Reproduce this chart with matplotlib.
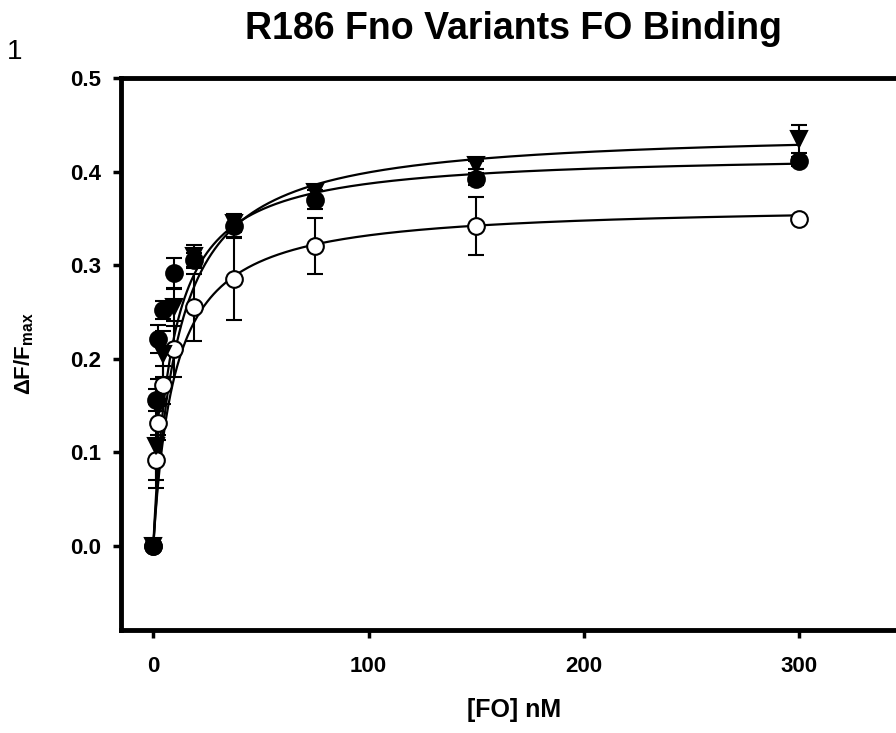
import matplotlib
matplotlib.use("Agg")
import matplotlib.pyplot as plt
import numpy as np

# concentrations of FO (nM)
conc = [0, 1.17, 2.34, 4.69, 9.38, 18.75, 37.5, 75, 150, 300]

# filled circles
y_fill = [0, 0.156, 0.221, 0.252, 0.292, 0.305, 0.342, 0.370, 0.392, 0.411]
e_fill = [0, 0.012, 0.015, 0.010, 0.016, 0.008, 0.012, 0.010, 0.006, 0.005]

# filled down triangles
y_tri = [0, 0.107, 0.148, 0.205, 0.255, 0.310, 0.345, 0.378, 0.407, 0.435]
e_tri = [0, 0.045, 0.030, 0.025, 0.020, 0.012, 0.010, 0.008, 0.004, 0.015]

# open circles
y_open = [0, 0.092, 0.131, 0.172, 0.210, 0.255, 0.285, 0.320, 0.342, 0.349]
e_open = [0, 0.022, 0.018, 0.020, 0.030, 0.036, 0.044, 0.030, 0.031, 0.003]

# single site fit parameters (Bmax, Kd)
fit_fill = (0.420, 8.5)
fit_tri = (0.445, 11.5)
fit_open = (0.365, 10.0)

plt.rcParams['font.family'] = ['Liberation Sans', 'DejaVu Sans']
plt.rcParams['mathtext.default'] = 'regular'

fig = plt.figure(figsize=(8.96, 7.33), dpi=100)
ax = fig.add_axes([121/896, 1 - 630/733, 786/896, 552/733])

xs = np.linspace(0, max(conc), 600)
for yy, ee, (bmax, kd), mk, fc in [(y_open, e_open, fit_open, 'o', 'white'),
                                   (y_tri, e_tri, fit_tri, 'v', 'black'),
                                   (y_fill, e_fill, fit_fill, 'o', 'black')]:
    ax.plot(xs, bmax * xs / (kd + xs), color='black', lw=1.6, zorder=2)
    ax.errorbar(conc, yy, yerr=ee, fmt='none', ecolor='black', elinewidth=1.5,
                capsize=6, capthick=1.5, zorder=3)
    ax.plot(conc, yy, ls='none', marker=mk, ms=12, mfc=fc, mec='black',
            mew=1.5, zorder=4)

ax.set_xlim(-15, 350)
ax.set_ylim(-0.09, 0.5)
ax.set_xticks([0, 100, 200, 300])
ax.set_yticks([0.0, 0.1, 0.2, 0.3, 0.4, 0.5])
ax.set_yticklabels(['0.0', '0.1', '0.2', '0.3', '0.4', '0.5'])
for s in ax.spines.values():
    s.set_linewidth(3.5)
ax.tick_params(direction='out', length=6, width=2.5, pad=8, labelsize=16)
ax.tick_params(axis='x', pad=13)
for lab in ax.get_xticklabels() + ax.get_yticklabels():
    lab.set_fontweight('bold')

ax.set_xlabel('[FO] nM', fontsize=18, fontweight='bold', labelpad=15)
ax.set_ylabel(r'$\Delta$F/F$_{max}$', fontsize=16, fontweight='bold', va='center')
ax.yaxis.set_label_coords((24 - 121) / 786, 0.5)

fig.text(513/896, 1 - 29/733, 'R186 Fno Variants FO Binding', ha='center',
         va='center', fontsize=27, fontweight='bold')
fig.text(0.008, 1 - 52/733, '1', ha='left', va='center', fontsize=20)

fig.savefig('out.png', dpi=100)
